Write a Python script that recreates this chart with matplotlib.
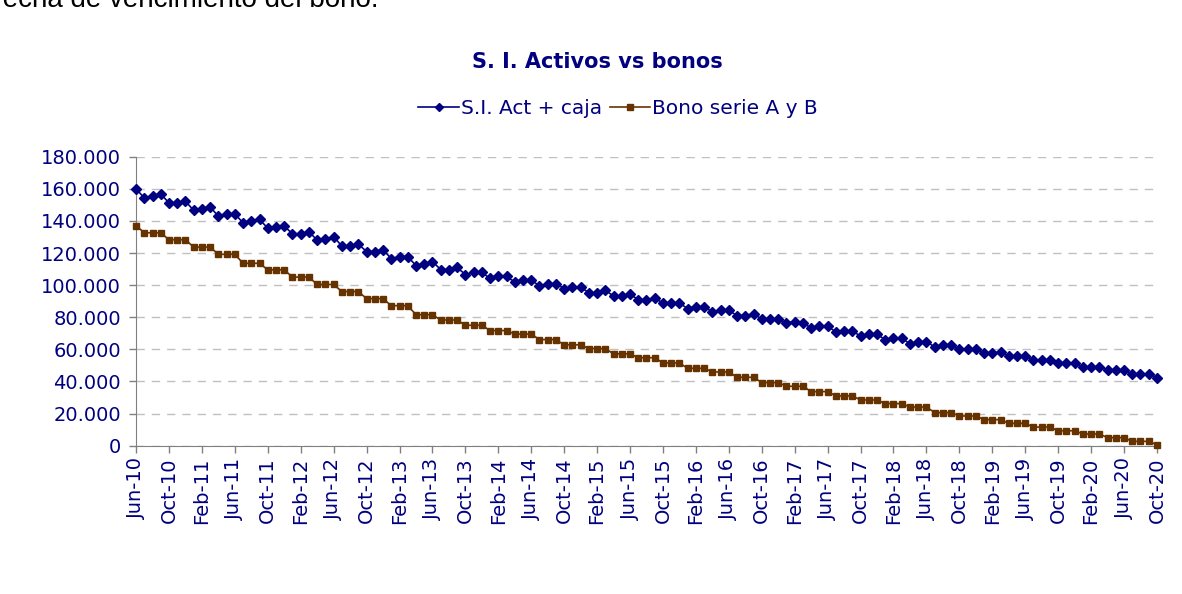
import numpy as np
import pandas as pd
import matplotlib
matplotlib.use("Agg")
import matplotlib.pyplot as plt
from matplotlib.ticker import FuncFormatter, MultipleLocator

# monthly categories Jun-10 .. Oct-20
months = pd.date_range("2010-06-01", periods=125, freq="MS")
tick_labels = [d.strftime("%b-%y") for d in months]

si_act_caja = [
    160000, 154300, 155700, 156800, 151200, 151200, 152200, 146600, 147700, 148700,
    142900, 144200, 144400, 138800, 140100, 140900, 135500, 136500, 136700, 132000,
    132000, 133300, 128000, 128900, 130200, 124300, 124300, 125600, 120900, 120900,
    122100, 116500, 117800, 117800, 112200, 113400, 114700, 109700, 109700, 111000,
    106600, 107900, 107900, 104200, 105400, 105400, 101900, 103100, 103100, 99600,
    100800, 100800, 97900, 98900, 98900, 95200, 95200, 96900, 93100, 93400,
    94400, 90900, 90900, 92100, 88700, 88700, 88900, 85300, 86600, 86600,
    83300, 84300, 84300, 81000, 81000, 82200, 78800, 78800, 78800, 76700,
    76900, 76700, 73200, 74400, 74400, 70900, 71400, 71600, 68100, 69400,
    69400, 66000, 66900, 66900, 63500, 64800, 64800, 61500, 62700, 62700,
    60200, 60200, 60200, 57900, 57900, 58200, 55700, 55900, 55900, 53400,
    53600, 53600, 51300, 51300, 51500, 49000, 49000, 49200, 47000, 47000,
    47000, 44700, 44700, 44800, 42400,
]

bono_serie_ab = [
    137100, 132600, 132600, 132600, 128300, 128300, 128300, 123700, 123700, 123700,
    119200, 119200, 119200, 113600, 113600, 113600, 109500, 109500, 109500, 105000,
    105000, 105000, 100400, 100400, 100400, 96000, 96000, 96000, 91600, 91600,
    91600, 87200, 87200, 87200, 81600, 81600, 81600, 78300, 78300, 78300,
    75000, 75000, 75000, 71700, 71700, 71700, 69500, 69500, 69500, 66100,
    66100, 66100, 62800, 62800, 62800, 60500, 60500, 60500, 57200, 57200,
    57200, 54800, 54800, 54800, 51500, 51500, 51500, 48200, 48200, 48200,
    45900, 45900, 45900, 42600, 42600, 42600, 39300, 39300, 39300, 37000,
    37000, 37000, 33700, 33700, 33700, 31000, 31000, 31000, 28500, 28500,
    28500, 26200, 26200, 26200, 24100, 24100, 24100, 20600, 20600, 20600,
    18500, 18500, 18500, 16200, 16200, 16200, 13900, 13900, 13900, 11600,
    11600, 11600, 9300, 9300, 9300, 7300, 7300, 7300, 5000, 5000,
    5000, 2700, 2700, 2700, 600,
]

navy = "#000080"
brown = "#663300"

plt.rcParams["font.family"] = "DejaVu Sans"

fig = plt.figure(figsize=(11.82, 5.94), dpi=100)
ax = fig.add_axes([0.1151, 0.2497, 0.8637, 0.4865])

x = np.arange(len(months))
ax.plot(x, si_act_caja, color=navy, lw=1.2, marker="D", ms=5.5,
        label="S.I. Act + caja", clip_on=False, zorder=3)
ax.plot(x, bono_serie_ab, color=brown, lw=1.2, marker="s", ms=5,
        label="Bono serie A y B", clip_on=False, zorder=3)

ax.set_xlim(0, len(months) - 1)
ax.set_ylim(0, 180000)
ax.yaxis.set_major_locator(MultipleLocator(20000))
ax.yaxis.set_major_formatter(FuncFormatter(lambda v, p: f"{int(v):,}".replace(",", ".")))
ax.set_xticks(x[::4])
ax.set_xticklabels(tick_labels[::4], rotation=90)

ax.grid(axis="y", color="#c0c0c0", ls=(0, (6, 5)), lw=1)
ax.set_axisbelow(True)
for s in ("top", "right"):
    ax.spines[s].set_visible(False)
for s in ("left", "bottom"):
    ax.spines[s].set_color("#808080")
ax.tick_params(axis="both", colors="#808080", labelcolor=navy, labelsize=14,
               length=5, width=1)
ax.tick_params(axis="y", pad=6)

fig.text(0.505, 0.895, "S. I. Activos vs bonos", ha="center", va="center",
         fontsize=15, fontweight="bold", color=navy)
leg = fig.legend(loc="center", bbox_to_anchor=(0.523, 0.817), ncol=2, frameon=False,
                 fontsize=14.5, handlelength=2.0, handletextpad=0.1,
                 columnspacing=0.4, markerscale=0.8)
for t in leg.get_texts():
    t.set_color(navy)

# cut-off body text at the top of the page
fig.text(-0.004, 1 - 7 / 594, "fecha de vencimiento del bono.", ha="left",
         va="baseline", fontsize=20, family="Liberation Sans", color="black")

fig.savefig("out.png", dpi=100)
